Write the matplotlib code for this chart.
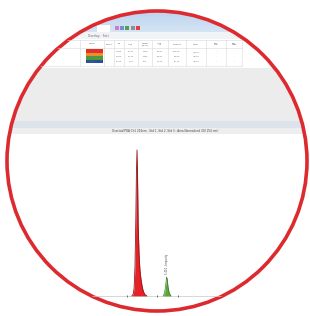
import numpy as np
import matplotlib.pyplot as plt
from matplotlib.patches import Circle, Rectangle
from matplotlib.colors import LinearSegmentedColormap

# chromatogram traces (time in min, signal in mAU)
t_red = [4.20, 4.25, 4.28, 4.31, 4.34, 4.36, 4.38, 4.40, 4.42, 4.45, 4.48, 4.52, 4.56, 4.60, 4.65, 4.72]
red = [0, 20, 80, 300, 800, 1250, 1460, 1150, 700, 420, 260, 160, 90, 45, 15, 0]
t_green = [5.28, 5.33, 5.37, 5.40, 5.42, 5.45, 5.49, 5.55]
green = [0, 30, 110, 190, 170, 90, 30, 0]
peak_label = "5.410 - Impurity"
markers = [4.03, 5.07, 5.79]

# table in the software window
headers = ["Name", "Colour", "RT", "Area", "Height\n(mAU)", "Area\n%", "Amount", "Units", "Lim.\nLow", "Lim.\nHigh"]
rows = [["Std 1", "", "4.380", "10.25", "1460", "88.41", "100.00", "ug/mL", "-", "-"],
        ["Std 2", "", "4.382", "10.22", "1455", "88.37", "99.80", "ug/mL", "-", "-"],
        ["Std 3", "", "5.410", "1.34", "190", "11.59", "12.10", "ug/mL", "-", "-"]]
swatch = ["#e0302a", "#f08a2a", "#4a9a3a", "#2a4e9c"]
title = "Overlaid PDA Ch1 254nm - Std 1, Std 2, Std 3 : Area Normalised (UV 254 nm)"

fig = plt.figure(figsize=(3.10, 3.16), dpi=100)
ax = fig.add_axes([0, 0, 1, 1])
ax.set_xlim(0, 310)
ax.set_ylim(316, 0)
ax.axis("off")

clip = Circle((157, 161), 150, transform=ax.transData, facecolor="none")

def add(p):
    ax.add_patch(p)
    p.set_clip_path(clip)
    return p

# title bar gradient
cm = LinearSegmentedColormap.from_list("bar", ["#aecbea", "#d4e4f4"])
im = ax.imshow(np.linspace(0, 1, 20).reshape(-1, 1), cmap=cm, aspect="auto",
               extent=(0, 310, 32, 0), zorder=0)
im.set_clip_path(clip)
ax.set_xlim(0, 310)
ax.set_ylim(316, 0)

add(Rectangle((97, 25), 13, 7, color="white", lw=0))
for x, c in zip([115, 120, 125, 131, 136], ["#d07ac8", "#7090d8", "#50a050", "#909090", "#e04040"]):
    add(Rectangle((x, 26), 3.5, 4, color=c, lw=0))
add(Rectangle((0, 32), 310, 7, color="#f2f3f5", lw=0))
add(Rectangle((0, 39), 310, 29, color="white", lw=0))
add(Rectangle((0, 68), 310, 53, color="#ececec", lw=0))
add(Rectangle((0, 121), 310, 7, color="#dce3ea", lw=0))
add(Rectangle((0, 128), 310, 6, color="#eceef0", lw=0))
add(Rectangle((0, 134), 310, 182, color="white", lw=0))

t = ax.text(88, 35.5, "Overlay   Sort", fontsize=2.2, color="#666666", va="center")
t.set_clip_path(clip)

# table
col_x = [15, 80, 104, 114, 124, 138, 152, 168, 186, 206, 226, 242]
for x in col_x:
    ln, = ax.plot([x, x], [40, 66], color="#d8d8d8", lw=0.4)
    ln.set_clip_path(clip)
for y in [40, 48, 66]:
    ln, = ax.plot([col_x[0], col_x[-1]], [y, y], color="#d8d8d8", lw=0.4)
    ln.set_clip_path(clip)
for i, h in enumerate(headers):
    xc = (col_x[i + 1] + col_x[i + 2]) / 2 if i + 2 < len(col_x) else col_x[i + 1] + 8
    tx = ax.text(xc, 44, h, fontsize=1.6, color="#555555", ha="center", va="center")
    tx.set_clip_path(clip)
for r, row in enumerate(rows):
    y = 52 + r * 4.5
    for i, v in enumerate(row):
        if not v:
            continue
        xc = (col_x[i + 1] + col_x[i + 2]) / 2 if i + 2 < len(col_x) else col_x[i + 1] + 8
        tx = ax.text(xc, y, v, fontsize=1.6, color="#777777", ha="center", va="center")
        tx.set_clip_path(clip)
for k, c in enumerate(swatch):
    add(Rectangle((86, 49 + k * 3.5), 17, 3.5, color=c, lw=0))

tt = ax.text(165, 131, title, fontsize=2.0, color="#444444", ha="center", va="center")
tt.set_clip_path(clip)

# chromatogram
cax = fig.add_axes([10 / 310, 16 / 316, 290 / 310, 166 / 316])
cax.set_xlim(0, 10)
cax.set_ylim(-40, 1620)
cax.axis("off")
base, = cax.plot([0, 10], [0, 0], color="#c8c8c8", lw=0.5)
base.set_clip_path(clip)
f1 = cax.fill_between(t_red, red, 0, color="#e52228", lw=0)
f1.set_clip_path(clip)
l1, = cax.plot(t_red, red, color="#8a1a18", lw=0.6)
l1.set_clip_path(clip)
f2 = cax.fill_between(t_green, green, 0, color="#5aa83a", lw=0)
f2.set_clip_path(clip)
l2, = cax.plot(t_green, green, color="#3a7a2a", lw=0.5)
l2.set_clip_path(clip)
ml, = cax.plot(markers, [0] * len(markers), "|", color="#555555", ms=2, mew=0.6)
ml.set_clip_path(clip)
lt = cax.text(t_green[3] + 0.02, 220, peak_label, rotation=90, fontsize=1.8, color="#444444",
              ha="center", va="bottom")
lt.set_clip_path(clip)

# red ring
ring = Circle((157, 161), 150, transform=ax.transData, facecolor="none",
              edgecolor="#dc2a2e", lw=2.6)
ax.add_patch(ring)

fig.savefig("out.png", dpi=100)
